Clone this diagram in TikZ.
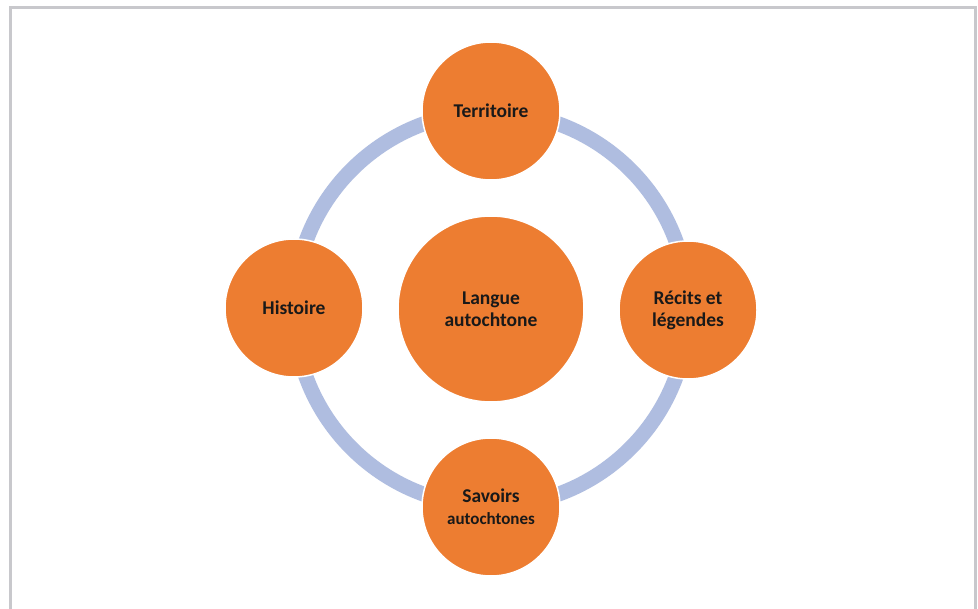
\documentclass[tikz,border=0pt]{standalone}
\usepackage{fontspec}
\setmainfont{Carlito}
\definecolor{orangefill}{HTML}{ED7D31}
\definecolor{ringblue}{HTML}{AFBDE0}
\definecolor{framegray}{HTML}{C8C8CC}
\begin{document}
\begin{tikzpicture}[x=1pt,y=-1pt,
  bubble/.style={circle, fill=orangefill, draw=white, line width=1.5pt,
    minimum size=#1, inner sep=0pt, align=center,
    font=\fontsize{19.5}{22}\selectfont\bfseries, text=black!90},
  ringline/.style={draw=ringblue, line width=15pt},
  framebox/.style={draw=framegray, line width=3pt}]
\useasboundingbox (0,0) rectangle (978,609);
\fill[white] (0,0) rectangle (978,609);
\draw[framebox] (10.5,609) -- (10.5,7.5) -- (975.5,7.5) -- (975.5,609);
\coordinate (hub) at (491,309);
\draw[ringline] (hub) circle (197);
\node[bubble=186pt] (langue) at (hub) {Langue\\autochtone};
\node[bubble=138pt] (territoire) at (491,111) {Territoire};
\node[bubble=138pt] (recits) at (688,310) {Récits et\\légendes};
\node[bubble=138pt] (savoirs) at (491,507) {Savoirs\\{\fontsize{17}{20}\selectfont autochtones}};
\node[bubble=138pt] (histoire) at (294,308) {Histoire};
\end{tikzpicture}
\end{document}
